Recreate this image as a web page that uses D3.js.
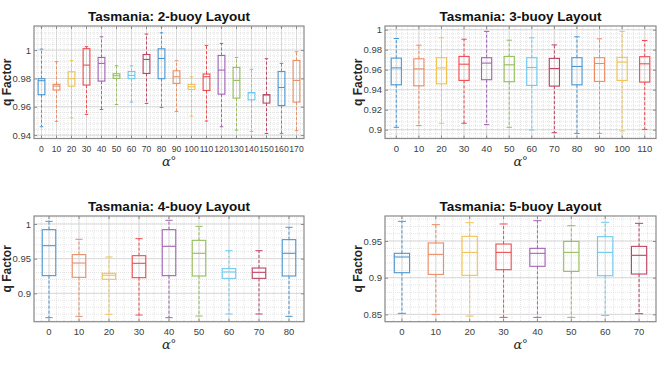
<!DOCTYPE html>
<html>
<head>
<meta charset="utf-8">
<script src="https://cdn.jsdelivr.net/npm/d3@7"></script>
<style>
  body { margin: 0; background: #fff; }
  svg { display: block; font-family: "Liberation Sans", Arial, sans-serif; }
</style>
</head>
<body>
<svg id="chart" width="664" height="368"></svg>
<script>
// box stats per angle: [whisker low, q1, median, q3, whisker high]
let alpha2 = [0, 10, 20, 30, 40, 50, 60, 70, 80, 90, 100, 110, 120, 130, 140, 150, 160, 170];
let stats2 = [
  [0.9459, 0.9685, 0.9784, 0.9798, 1.0007],
  [0.9497, 0.9718, 0.9746, 0.9758, 0.9918],
  [0.9522, 0.9746, 0.9798, 0.9847, 0.9927],
  [0.9546, 0.9753, 0.9894, 1.0010, 1.0024],
  [0.9581, 0.9781, 0.9906, 0.9948, 1.0094],
  [0.9616, 0.9800, 0.9819, 0.9833, 0.9889],
  [0.9633, 0.9798, 0.9821, 0.9849, 0.9889],
  [0.9624, 0.9835, 0.9934, 0.9969, 1.0113],
  [0.9595, 0.9798, 0.9941, 1.0009, 1.0122],
  [0.9567, 0.9765, 0.9812, 0.9854, 0.9925],
  [0.9534, 0.9722, 0.9741, 0.9758, 0.9812],
  [0.9499, 0.9715, 0.9812, 0.9831, 1.0033],
  [0.9459, 0.9689, 0.9859, 0.9962, 1.0047],
  [0.9435, 0.9661, 0.9786, 0.9878, 0.9948],
  [0.9426, 0.9649, 0.9698, 0.9701, 0.9864],
  [0.9412, 0.9626, 0.9684, 0.9685, 0.9939],
  [0.9412, 0.9609, 0.9736, 0.9849, 0.9906],
  [0.9431, 0.9633, 0.9786, 0.9927, 0.9988]
];
let ticks2 = [0.94, 0.96, 0.98, 1];

let alpha3 = [0, 10, 20, 30, 40, 50, 60, 70, 80, 90, 100, 110];
let stats3 = [
  [0.9024, 0.9449, 0.9618, 0.9716, 0.9912],
  [0.9041, 0.9439, 0.9608, 0.9709, 0.9845],
  [0.9064, 0.9459, 0.9618, 0.9720, 0.9919],
  [0.9064, 0.9493, 0.9655, 0.9733, 0.9905],
  [0.9051, 0.9500, 0.9666, 0.9720, 0.9983],
  [0.9024, 0.9480, 0.9649, 0.9733, 0.9895],
  [0.8997, 0.9443, 0.9622, 0.9720, 0.9919],
  [0.8970, 0.9436, 0.9612, 0.9713, 0.9848],
  [0.8963, 0.9449, 0.9632, 0.9720, 0.9929],
  [0.8963, 0.9483, 0.9662, 0.9720, 0.9909],
  [0.8987, 0.9493, 0.9676, 0.9723, 0.9983],
  [0.9003, 0.9476, 0.9659, 0.9730, 0.9892]
];
let ticks3 = [0.9, 0.92, 0.94, 0.96, 0.98, 1];

let alpha4 = [0, 10, 20, 30, 40, 50, 60, 70, 80];
let stats4 = [
  [0.8649, 0.9255, 0.9687, 0.9918, 1.0038],
  [0.8668, 0.9231, 0.9437, 0.9558, 0.9779],
  [0.8697, 0.9202, 0.9260, 0.9288, 0.9524],
  [0.8687, 0.9226, 0.9433, 0.9543, 0.9788],
  [0.8649, 0.9255, 0.9678, 0.9918, 1.0053],
  [0.8673, 0.9250, 0.9577, 0.9764, 0.9966],
  [0.8702, 0.9216, 0.9308, 0.9356, 0.9615],
  [0.8702, 0.9216, 0.9303, 0.9365, 0.9615],
  [0.8668, 0.9250, 0.9577, 0.9774, 0.9952]
];
let ticks4 = [0.9, 0.95, 1];

let alpha5 = [0, 10, 20, 30, 40, 50, 60, 70];
let stats5 = [
  [0.8514, 0.9068, 0.9282, 0.9332, 0.9768],
  [0.8500, 0.9045, 0.9318, 0.9473, 0.9723],
  [0.8477, 0.9032, 0.9345, 0.9564, 0.9750],
  [0.8459, 0.9109, 0.9345, 0.9459, 0.9732],
  [0.8459, 0.9155, 0.9332, 0.9400, 0.9777],
  [0.8459, 0.9086, 0.9345, 0.9495, 0.9709],
  [0.8486, 0.9027, 0.9345, 0.9559, 0.9755],
  [0.8509, 0.9050, 0.9305, 0.9427, 0.9741]
];
let ticks5 = [0.85, 0.9, 0.95];

let colors = ["#4a98d5", "#ec8d64", "#f1c350", "#f24b4f", "#a363b5", "#94bf5a", "#6ccaf1", "#bf4462"];

let svg = d3.select("#chart");
let fmt = d => String(+d.toFixed(2));

function drawPanel(title, cats, stats, ticks, domain, box) {
  let g = svg.append("g");
  let x = d3.scaleBand().domain(cats).range([box.x0, box.x1]);
  let y = d3.scaleLinear().domain(domain).range([box.y1, box.y0]);
  let bw = x.bandwidth();
  let cx = d => x(d) + bw / 2;

  // grid
  let step = ticks[1] - ticks[0];
  let minorY = d3.range(Math.ceil(domain[0] / (step / 5)), Math.floor(domain[1] / (step / 5)) + 1).map(k => k * step / 5);
  g.selectAll(".my").data(minorY).enter().append("line")
    .attr("x1", box.x0).attr("x2", box.x1)
    .attr("y1", d => y(d)).attr("y2", d => y(d))
    .attr("stroke", "#d8d8d8").attr("stroke-width", 0.7).attr("stroke-dasharray", "1,1");
  let minorX = [];
  cats.forEach(c => { for (let k = 0; k < 4; k++) minorX.push(x(c) + bw * k / 4); });
  g.selectAll(".mx").data(minorX).enter().append("line")
    .attr("x1", d => d).attr("x2", d => d)
    .attr("y1", box.y0).attr("y2", box.y1)
    .attr("stroke", "#d8d8d8").attr("stroke-width", 0.7).attr("stroke-dasharray", "1,1");
  g.selectAll(".gy").data(ticks).enter().append("line")
    .attr("x1", box.x0).attr("x2", box.x1)
    .attr("y1", d => y(d)).attr("y2", d => y(d))
    .attr("stroke", "#d2d2d2").attr("stroke-width", 0.8);
  g.selectAll(".gx").data(cats).enter().append("line")
    .attr("x1", cx).attr("x2", cx)
    .attr("y1", box.y0).attr("y2", box.y1)
    .attr("stroke", "#d2d2d2").attr("stroke-width", 0.8);

  // boxes
  let half = bw * 0.225;
  let cap = bw * 0.12;
  let b = g.selectAll(".bx").data(cats).enter().append("g");
  b.each(function (c, i) {
    let s = stats[i];
    let col = colors[i % colors.length];
    let e = d3.select(this);
    e.append("line").attr("x1", cx(c)).attr("x2", cx(c)).attr("y1", y(s[3])).attr("y2", y(s[4]))
      .attr("stroke", col).attr("stroke-width", 1).attr("stroke-dasharray", "3,2");
    e.append("line").attr("x1", cx(c)).attr("x2", cx(c)).attr("y1", y(s[1])).attr("y2", y(s[0]))
      .attr("stroke", col).attr("stroke-width", 1).attr("stroke-dasharray", "3,2");
    [s[0], s[4]].forEach(v => {
      e.append("line").attr("x1", cx(c) - cap).attr("x2", cx(c) + cap).attr("y1", y(v)).attr("y2", y(v))
        .attr("stroke", col).attr("stroke-width", 1);
    });
    e.append("rect").attr("x", cx(c) - half).attr("width", half * 2)
      .attr("y", y(s[3])).attr("height", Math.max(y(s[1]) - y(s[3]), 0.5))
      .attr("fill", "none").attr("stroke", col).attr("stroke-width", 1.1);
    e.append("line").attr("x1", cx(c) - half).attr("x2", cx(c) + half).attr("y1", y(s[2])).attr("y2", y(s[2]))
      .attr("stroke", col).attr("stroke-width", 1.1);
  });

  // axes
  let tl = 3;
  let xSize = bw < 20 ? "8.6px" : "9.5px";
  g.append("g").attr("transform", "translate(0," + box.y1 + ")")
    .call(d3.axisBottom(x).tickSize(-tl).tickPadding(7).tickFormat(d => d))
    .call(a => a.select(".domain").remove())
    .call(a => a.selectAll("text").attr("class", "xt"));
  g.append("g").attr("transform", "translate(0," + box.y0 + ")")
    .call(d3.axisTop(x).tickSize(-tl).tickFormat(""))
    .call(a => a.select(".domain").remove());
  g.append("g").attr("transform", "translate(" + box.x0 + ",0)")
    .call(d3.axisLeft(y).tickValues(ticks).tickSize(-tl).tickPadding(3).tickFormat(fmt))
    .call(a => a.select(".domain").remove());
  g.append("g").attr("transform", "translate(" + box.x1 + ",0)")
    .call(d3.axisRight(y).tickValues(ticks).tickSize(-tl).tickFormat(""))
    .call(a => a.select(".domain").remove());
  g.selectAll(".tick line").attr("stroke", "#8a8a8a");
  g.selectAll(".tick text").attr("fill", "#404040").style("font-size", "9.5px")
    .style("font-family", "'Liberation Sans', Arial, sans-serif");
  g.selectAll("text.xt").style("font-size", xSize);

  g.append("rect").attr("x", box.x0).attr("y", box.y0)
    .attr("width", box.x1 - box.x0).attr("height", box.y1 - box.y0)
    .attr("fill", "none").attr("stroke", "#8a8a8a").attr("stroke-width", 1.2);

  let mid = (box.x0 + box.x1) / 2;
  g.append("text").attr("x", mid).attr("y", box.y0 - 5)
    .attr("text-anchor", "middle").style("font-size", "13.5px").style("font-weight", "bold")
    .attr("fill", "#111").text(title);
  g.append("text")
    .attr("transform", "translate(" + (box.x0 - 23) + "," + ((box.y0 + box.y1) / 2) + ")rotate(-90)")
    .attr("text-anchor", "middle").style("font-size", "12px").style("font-weight", "bold")
    .attr("fill", "#262626").text("q Factor");
  g.append("text").attr("x", mid).attr("y", box.y1 + 27)
    .attr("text-anchor", "middle").style("font-size", "13px")
    .attr("fill", "#262626")
    .html('<tspan font-style="italic" font-family="DejaVu Serif, serif">α</tspan><tspan dy="-1">°</tspan>');
}

drawPanel("Tasmania: 2-buoy Layout", alpha2, stats2, ticks2, [0.9376, 1.017], { x0: 34, x1: 304, y0: 26, y1: 138.5 });
drawPanel("Tasmania: 3-buoy Layout", alpha3, stats3, ticks3, [0.8912, 1.0037], { x0: 385, x1: 656, y0: 26, y1: 138.5 });
drawPanel("Tasmania: 4-buoy Layout", alpha4, stats4, ticks4, [0.8591, 1.0115], { x0: 34, x1: 304, y0: 216, y1: 321.7 });
drawPanel("Tasmania: 5-buoy Layout", alpha5, stats5, ticks5, [0.8400, 0.9841], { x0: 385, x1: 656, y0: 216, y1: 321.7 });
</script>
</body>
</html>
